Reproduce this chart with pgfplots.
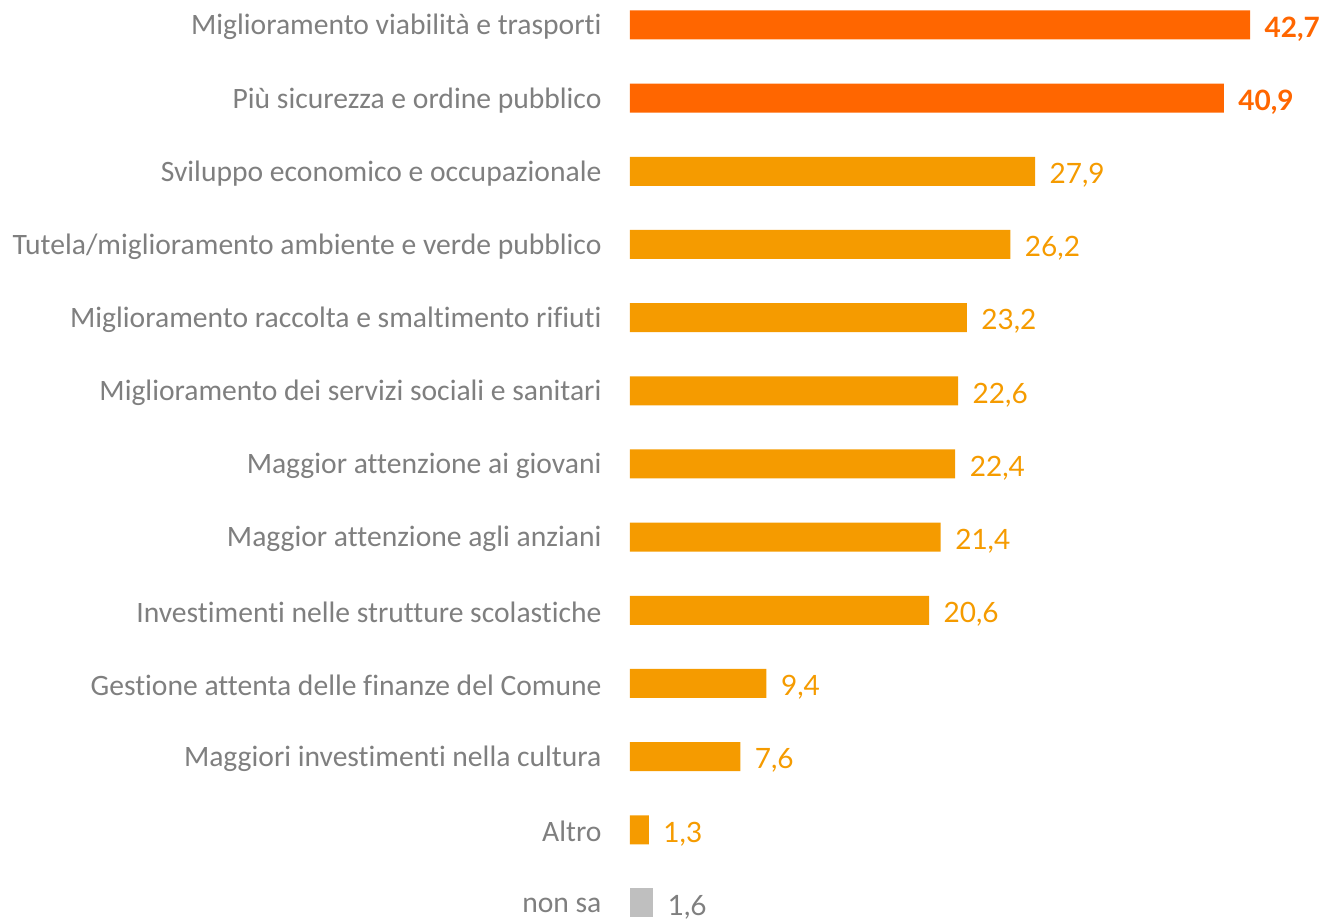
\documentclass[border=0pt]{standalone}
\usepackage{pgfplots}
\pgfplotsset{compat=1.18}
\usepackage{fontspec}
\setmainfont{Carlito}[Ligatures=NoCommon]
\newfontfamily\valfont{Lato}[Ligatures=NoCommon]
\definecolor{darkor}{HTML}{FF6600}
\definecolor{midor}{HTML}{F59B00}
\definecolor{bargray}{HTML}{BFBFBF}
\definecolor{labgray}{HTML}{7F7F7F}
\begin{document}
\begin{tikzpicture}
\useasboundingbox (0,0) rectangle (1326pt,919pt);
\begin{axis}[
  at={(630pt,1.37pt)}, anchor=south west,
  scale only axis, width=620pt, height=907.3pt,
  xmin=0, xmax=42.7, ymin=-0.2, ymax=12.2,
  xbar, bar width=29pt, bar shift=0pt,
  clip=false,
  axis line style={draw=none},
  major tick length=0pt,
  xtick=\empty,
  ytick={0,...,12},
  yticklabels={non sa, Altro, Maggiori investimenti nella cultura, Gestione attenta delle finanze del Comune, Investimenti nelle strutture scolastiche, Maggior attenzione agli anziani, Maggior attenzione ai giovani, Miglioramento dei servizi sociali e sanitari, Miglioramento raccolta e smaltimento rifiuti, Tutela/miglioramento ambiente e verde pubblico, Sviluppo economico e occupazionale, Più sicurezza e ordine pubblico, Miglioramento viabilità e trasporti},
  yticklabel style={font=\fontsize{29.6}{35}\selectfont, text=labgray, anchor=east, xshift=-25pt, yshift=-2pt},
  nodes near coords,
  /pgf/number format/.cd, fixed, fixed zerofill, precision=1, use comma, assume math mode=true,
  /pgfplots/.cd,
  nodes near coords style={anchor=west, xshift=11pt, yshift=-4pt, font=\valfont\fontsize{28}{34}\selectfont},
]
\addplot[fill=darkor, draw=none, nodes near coords style={text=darkor, font=\valfont\bfseries\fontsize{28}{34}\selectfont}] coordinates {(42.7,12) (40.9,11)};
\addplot[fill=midor, draw=none, nodes near coords style={text=midor}] coordinates {(27.9,10) (26.2,9) (23.2,8) (22.6,7) (22.4,6) (21.4,5) (20.6,4) (9.4,3) (7.6,2) (1.3,1)};
\addplot[fill=bargray, draw=none, nodes near coords style={text=labgray}] coordinates {(1.6,0)};
\end{axis}
\end{tikzpicture}
\end{document}
